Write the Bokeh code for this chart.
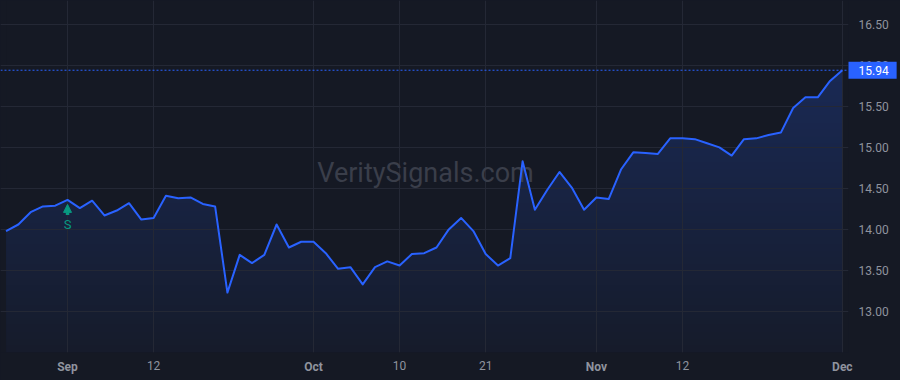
import numpy as np
import pandas as pd
from bokeh.plotting import figure
from bokeh.models import Range1d, Span, Label, Arrow, NormalHead, PrintfTickFormatter
from bokeh.embed import file_html
from bokeh.resources import INLINE
from bokeh.core.properties import value

# ---------------- data ----------------
dates = pd.bdate_range("2024-08-26", "2024-12-02", freq="C",
                       holidays=["2024-09-02", "2024-11-28"])
prices = [13.98, 14.06, 14.21, 14.28, 14.29, 14.36, 14.26, 14.35, 14.17, 14.23,
          14.32, 14.12, 14.14, 14.41, 14.38, 14.39, 14.31, 14.28, 13.23, 13.69,
          13.59, 13.69, 14.06, 13.78, 13.85, 13.85, 13.71, 13.52, 13.54, 13.33,
          13.54, 13.61, 13.56, 13.70, 13.71, 13.78, 14.00, 14.14, 13.98, 13.70,
          13.56, 13.65, 14.83, 14.24, 14.48, 14.70, 14.51, 14.24, 14.39, 14.37,
          14.73, 14.94, 14.93, 14.92, 15.11, 15.11, 15.10, 15.05, 15.00, 14.90,
          15.10, 15.11, 15.15, 15.18, 15.48, 15.61, 15.61, 15.81, 15.94]
tick_dates = ["2024-09-03", "2024-09-12", "2024-10-01", "2024-10-10",
              "2024-10-21", "2024-11-01", "2024-11-12", "2024-12-02"]
tick_labels = ["Sep", "12", "Oct", "10", "21", "Nov", "12", "Dec"]
month_labels = ["Sep", "Oct", "Nov", "Dec"]
y_ticks = [13.0, 13.5, 14.0, 14.5, 15.0, 15.5, 16.0, 16.5]
signal_date = "2024-09-03"
signal_text = "S"
watermark = "VeritySignals.com"

assert len(dates) == len(prices)

# ---------------- style ----------------
BG = "#151924"
GRID = "#242835"
TEXT = "#8f939e"
BLUE = "#2962ff"
GREEN = "#089981"
WM = "#3a3e4a"
FONT = "Roboto"

W, H = 900, 380
FRAME_W, FRAME_H = 848, 352

date_pos = {d.strftime("%Y-%m-%d"): i for i, d in enumerate(dates)}
idx = np.arange(len(prices))
tick_idx = [date_pos[d] for d in tick_dates]
x0, x1 = -0.45, len(prices) - 0.5
y0, y1 = 12.5, 16.79
ppu = FRAME_H / (y1 - y0)          # pixels per price unit

p = figure(width=W, height=H, frame_width=FRAME_W, frame_height=FRAME_H,
           output_backend="svg", toolbar_location=None,
           x_range=Range1d(x0, x1), y_range=Range1d(y0, y1),
           y_axis_location="right",
           background_fill_color=BG, border_fill_color=BG, outline_line_color=None,
           min_border_left=0, min_border_top=0,
           min_border_right=W - FRAME_W, min_border_bottom=H - FRAME_H)
p.styles = {"background-color": BG}

# gradient area fill (vertical gradient image, covered above the line)
n = 256
a = np.linspace(0.03, 0.22, n)
bg_rgb = np.array([0x15, 0x19, 0x24], dtype=float)
bl_rgb = np.array([0x29, 0x62, 0xff], dtype=float)
rgb = (bg_rgb[None, :] * (1 - a[:, None]) + bl_rgb[None, :] * a[:, None]).round().astype(np.uint8)
img = np.empty((n, 1), dtype=np.uint32)
view = img.view(dtype=np.uint8).reshape((n, 1, 4))
view[:, 0, :3] = rgb
view[:, 0, 3] = 255
top = max(prices)
p.image_rgba(image=[img], x=idx[0], y=y0, dw=idx[-1] - idx[0], dh=top - y0, level="image")
p.varea(x=idx, y1=prices, y2=y1, fill_color=BG, level="image")

# watermark
p.add_layout(Label(x=FRAME_W / 2 + 1, y=FRAME_H - 172, x_units="screen", y_units="screen",
                   text=watermark, text_align="center", text_baseline="middle",
                   text_font=FONT, text_font_size="27px", text_color=WM, level="underlay"))

# price line
p.line(idx, prices, line_color=BLUE, line_width=2, line_join="round")

# last price dotted line
p.add_layout(Span(location=prices[-1], dimension="width", line_color=BLUE,
                  line_width=1, line_dash="2 2"))

# signal marker
si = date_pos[signal_date]
p.add_layout(Arrow(end=NormalHead(size=8, fill_color=GREEN, line_color=GREEN, line_width=1),
                   x_start=si, y_start=prices[si] - 15 / ppu,
                   x_end=si, y_end=prices[si] - 4.5 / ppu,
                   line_color=GREEN, line_width=3.5))
p.text(x=[si], y=[prices[si]], text=[signal_text], y_offset=24.5,
       text_align="center", text_baseline="middle", text_color=GREEN,
       text_font=value(FONT), text_font_size="13px")

# axes / grid
p.xaxis.ticker = tick_idx
p.xaxis.major_label_overrides = {i: ("" if l in month_labels else l)
                                 for i, l in zip(tick_idx, tick_labels)}
p.yaxis.ticker = y_ticks
p.yaxis.formatter = PrintfTickFormatter(format="%.2f")
for ax in (p.xaxis, p.yaxis):
    ax.axis_line_color = None
    ax.major_tick_line_color = None
    ax.minor_tick_line_color = None
    ax.major_tick_out = 0
    ax.major_tick_in = 0
    ax.major_label_text_color = TEXT
    ax.major_label_text_font = FONT
    ax.major_label_text_font_size = "12px"
p.xaxis.major_label_standoff = 8
p.yaxis.major_label_standoff = 10
p.xgrid.grid_line_color = GRID
p.ygrid.grid_line_color = GRID

# bold month labels (side panel, so they are not clipped to the frame)
for i, l in zip(tick_idx, tick_labels):
    if l in month_labels:
        p.add_layout(Label(x=i, y=y0 - 14 / ppu, x_units="data", y_units="data", text=l,
                           text_align="center", text_baseline="middle",
                           text_font=FONT, text_font_size="12px", text_font_style="bold",
                           text_color=TEXT), "below")

# last price tag (padding is left, right, top, bottom)
p.add_layout(Label(x=x1, y=prices[-1], x_units="data", y_units="data",
                   text=f"{prices[-1]:.2f}", text_align="left", text_baseline="middle",
                   text_font=FONT, text_font_size="12px", text_color="#ffffff",
                   background_fill_color=BLUE, padding=(10, 8, 4, 4)), "right")

open("out.html", "w").write(file_html(p, INLINE))
